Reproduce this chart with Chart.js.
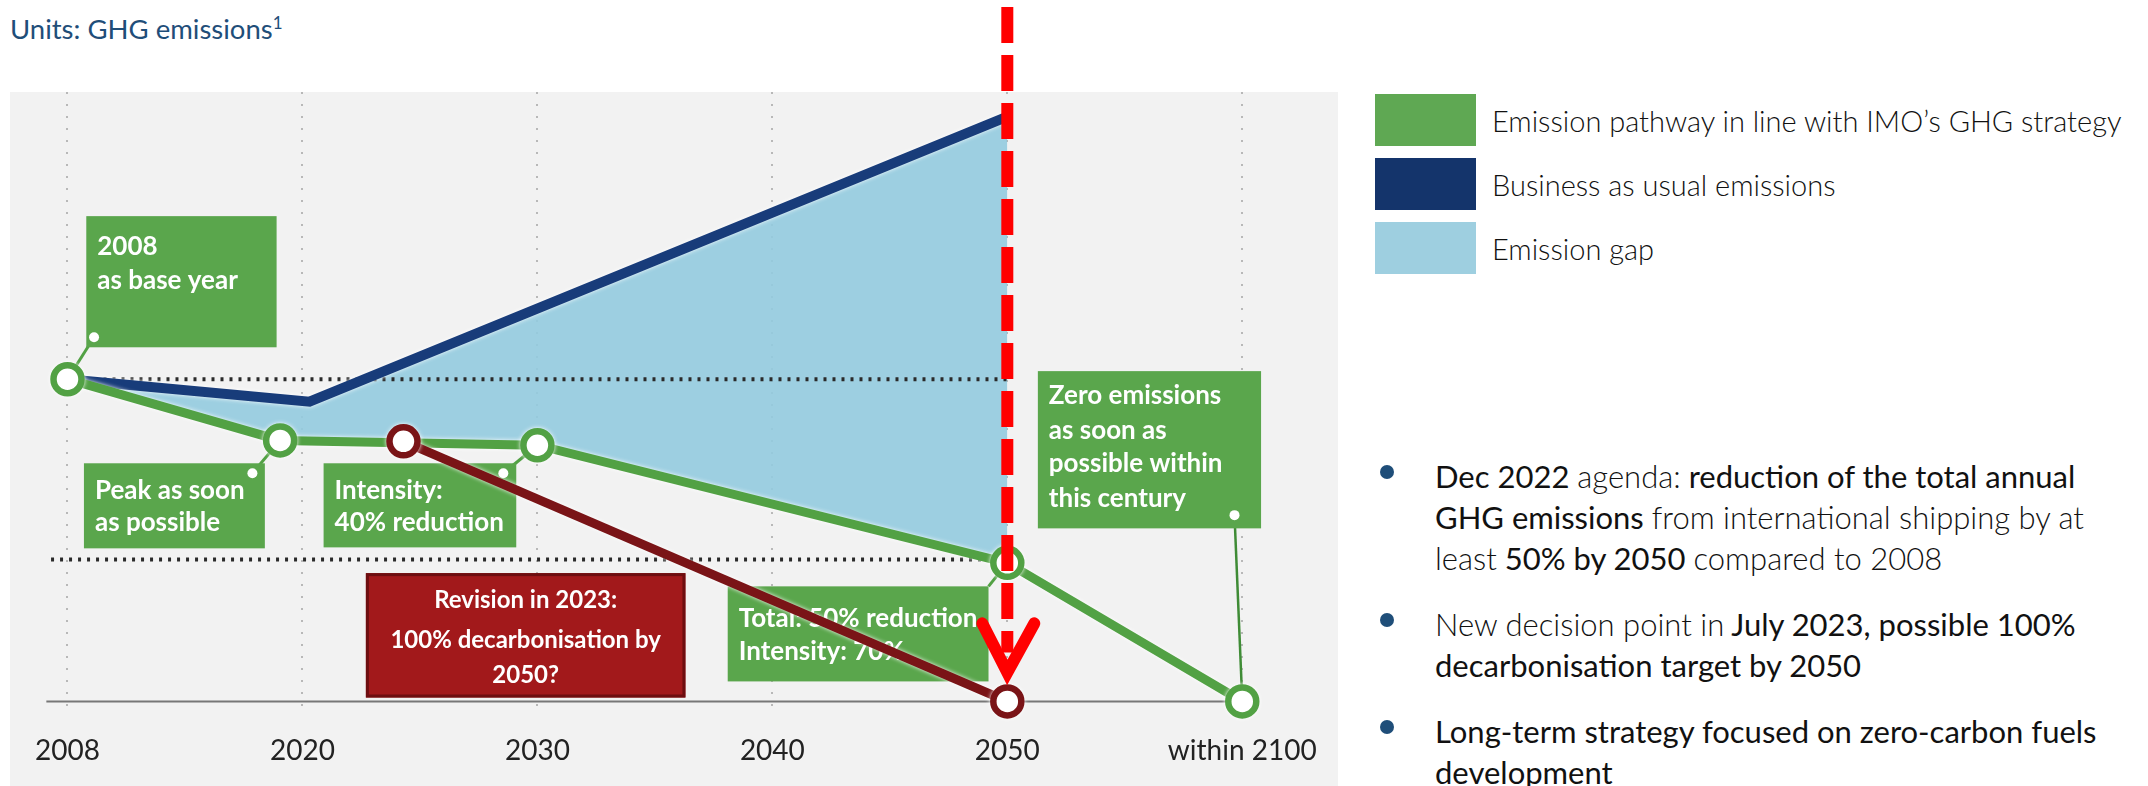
<!DOCTYPE html>
<html>
<head>
<meta charset="utf-8">
<title>IMO GHG strategy - emission pathways</title>
<script src="https://cdn.jsdelivr.net/npm/chart.js@4.4.1/dist/chart.umd.min.js"></script>
<style>
  html, body { margin: 0; padding: 0; background: #fff; }
  body { width: 2148px; height: 786px; position: relative; overflow: hidden; font-family: Lato, 'Open Sans', sans-serif; }
  .units { position: absolute; left: 10px; top: 12px; font-size: 27.5px; color: #1f4e79; white-space: nowrap; }
  .units sup { font-size: 17px; }
  .panel { position: absolute; left: 10px; top: 92px; width: 1328px; height: 694px; background: #f2f2f2; }
  #chart { position: absolute; left: 0; top: 0; }
  .legend { position: absolute; left: 1375px; top: 94px; }
  .legend .item { display: flex; align-items: center; height: 52px; margin-bottom: 12px; }
  .legend .swatch { width: 101px; height: 52px; margin-right: 16px; }
  .legend .label { font-size: 29px; font-weight: 300; color: #111; white-space: nowrap; }
  .notes { position: absolute; left: 1373px; top: 456px; margin: 0; padding: 0; list-style: none; font-size: 31px; line-height: 41px; color: #111; }
  .notes li { position: relative; padding-left: 62px; margin-bottom: 25px; white-space: nowrap; }
  .notes li::before { content: ''; position: absolute; left: 7px; top: 9px; width: 14px; height: 14px; border-radius: 50%; background: #1f4e79; }
  .lt { font-weight: 300; }
</style>
</head>
<body>
<div class="units">Units: GHG emissions<sup>1</sup></div>
<div class="panel"></div>
<canvas id="chart" width="1345" height="786"></canvas>
<div class="legend" id="legend"></div>
<ul class="notes">
  <li>Dec 2022 <span class="lt">agenda:</span> reduction of the total annual<br>GHG emissions <span class="lt">from international shipping by at<br>least</span> 50% by 2050 <span class="lt">compared to 2008</span></li>
  <li><span class="lt">New decision point in</span> July 2023, possible 100%<br>decarbonisation target by 2050</li>
  <li>Long-term strategy focused on zero-carbon fuels<br>development</li>
</ul>

<script>
const tickLabels = ['2008', '2020', '2030', '2040', '2050', 'within 2100'];

// x is measured in tick steps along the axis (0 = 2008 ... 5 = within 2100),
// y is an emissions index with 2008 = 100
const pathwayX = [0, 0.905, 2, 4, 5];
const pathwayY = [100, 81, 79.5, 43, 0];
const bauX = [0, 1.03, 4];
const bauY = [100, 93, 181.5];
const revisionX = [1.43, 4];
const revisionY = [80.7, 0];
const baseLevel = 100;
const halfLevel = 44;

const legendLabels = ['Emission pathway in line with IMO\u2019s GHG strategy', 'Business as usual emissions', 'Emission gap'];
const legendColors = ['#5fa853', '#14346b', '#9ecfe0'];

const GREEN = '#52a144';
const BOX_GREEN = '#5aa64c';
const NAVY = '#183c7a';
const GAP = 'rgba(148, 203, 223, 0.9)';
const RED_LINE = '#7a1417';

// text boxes, placed in the same units as the data
const callouts = [
  { lines: ['2008', 'as base year'], x: [0.08, 0.89], y: [150.6, 109.9], rows: [30, 64],
    dot: [0.113, 113], link: [0, 100] },
  { lines: ['Peak as soon', 'as possible'], x: [0.07, 0.84], y: [73.9, 47.5], rows: [27, 59],
    dot: [0.787, 70.8], link: [0.905, 81] },
  { lines: ['Intensity:', '40% reduction'], x: [1.09, 1.91], y: [73.9, 47.8], rows: [27, 59],
    dot: [1.855, 70.8], link: [2, 79.5] },
  { lines: ['Revision in 2023:', '100% decarbonisation by', '2050?'], x: [1.27, 2.63], y: [39.8, 1.2],
    rows: [27, 67, 102], red: true, center: true },
  { lines: ['Total: 50% reduction', 'Intensity: 70%'], x: [2.81, 3.92], y: [35.7, 6.2], rows: [32, 65],
    link: [4, 43], from: [3.92, 35.7] },
  { lines: ['Zero emissions', 'as soon as', 'possible within', 'this century'], x: [4.13, 5.08], y: [102.5, 53.7],
    rows: [24, 59, 92, 127], dot: [4.967, 57.8], link: [5, 0], thin: true }
];

document.getElementById('legend').innerHTML = legendLabels.map((l, i) =>
  '<div class="item"><div class="swatch" style="background:' + legendColors[i] + '"></div><div class="label">' + l + '</div></div>'
).join('');

const pts = (xs, ys) => xs.map((x, i) => ({ x: x, y: ys[i] }));

const calloutPlugin = {
  id: 'callouts',
  beforeDatasetsDraw(chart) {
    const { ctx, scales: { x, y } } = chart;
    ctx.save();
    callouts.forEach(c => {
      const left = x.getPixelForValue(c.x[0]);
      const right = x.getPixelForValue(c.x[1]);
      const top = y.getPixelForValue(c.y[0]);
      const bottom = y.getPixelForValue(c.y[1]);

      if (c.link) {
        const from = c.dot || c.from;
        ctx.beginPath();
        ctx.strokeStyle = c.thin ? '#3f8c36' : GREEN;
        ctx.lineWidth = c.thin ? 2.5 : 3;
        ctx.moveTo(x.getPixelForValue(from[0]), y.getPixelForValue(from[1]));
        ctx.lineTo(x.getPixelForValue(c.link[0]), y.getPixelForValue(c.link[1]));
        ctx.stroke();
      }

      ctx.fillStyle = c.red ? '#a2191b' : BOX_GREEN;
      ctx.fillRect(left, top, right - left, bottom - top);
      if (c.red) {
        ctx.strokeStyle = '#6d0e10';
        ctx.lineWidth = 3;
        ctx.strokeRect(left + 1.5, top + 1.5, right - left - 3, bottom - top - 3);
      }

      ctx.fillStyle = '#fff';
      ctx.font = c.red ? 'bold 24px Lato, sans-serif' : 'bold 26px Lato, sans-serif';
      ctx.textBaseline = 'middle';
      ctx.textAlign = c.center ? 'center' : 'left';
      const tx = c.center ? (left + right) / 2 : left + 11;
      c.lines.forEach((t, i) => ctx.fillText(t, tx, top + c.rows[i]));

      if (c.dot) {
        ctx.beginPath();
        ctx.fillStyle = '#fff';
        ctx.arc(x.getPixelForValue(c.dot[0]), y.getPixelForValue(c.dot[1]), 5, 0, Math.PI * 2);
        ctx.fill();
      }
    });
    ctx.restore();
  }
};

// white edge around the main lines
const haloPlugin = {
  id: 'halo',
  beforeDatasetDraw(chart, args) {
    const ctx = chart.ctx;
    ctx.save();
    if (args.meta._dataset.halo) {
      ctx.shadowColor = 'rgba(255,255,255,0.95)';
      ctx.shadowBlur = 4;
    }
  },
  afterDatasetDraw(chart) {
    chart.ctx.restore();
  }
};

// red dashed marker pointing down to the 2050 target
const arrowPlugin = {
  id: 'arrow',
  afterDatasetsDraw(chart) {
    const { ctx, scales: { x, y } } = chart;
    const px = x.getPixelForValue(revisionX[1]);
    const tip = y.getPixelForValue(revisionY[1]) - 29;
    ctx.save();
    ctx.strokeStyle = '#ff0000';
    ctx.lineWidth = 12;
    ctx.setLineDash([36, 12]);
    ctx.beginPath();
    ctx.moveTo(px, 7);
    ctx.lineTo(px, tip - 20);
    ctx.stroke();
    ctx.setLineDash([]);
    ctx.lineCap = 'round';
    ctx.lineJoin = 'miter';
    ctx.beginPath();
    ctx.moveTo(px - 25, tip - 49);
    ctx.lineTo(px, tip);
    ctx.lineTo(px + 27, tip - 49);
    ctx.stroke();
    ctx.restore();
  }
};

new Chart(document.getElementById('chart'), {
  type: 'line',
  data: {
    datasets: [
      { label: 'base level', data: pts([0, 4], [baseLevel, baseLevel]), borderColor: '#2a2a2a', borderWidth: 4,
        borderDash: [3, 6], pointRadius: 0, order: 4, clip: false },
      { label: 'half level', data: pts([-0.07, 4], [halfLevel, halfLevel]), borderColor: '#2a2a2a', borderWidth: 4,
        borderDash: [3, 6], pointRadius: 0, order: 4, clip: false },
      { label: 'axis', data: pts([-0.09, 5], [0, 0]), borderColor: '#777', borderWidth: 2, pointRadius: 0, order: 3, clip: false },
      { label: legendLabels[1], data: pts(bauX, bauY), borderColor: NAVY, borderWidth: 10, pointRadius: 0,
        fill: '+1', backgroundColor: GAP, order: 2, halo: true, clip: false },
      { label: legendLabels[0], data: pts(pathwayX, pathwayY), borderColor: GREEN, borderWidth: 9,
        pointRadius: 14, pointBorderWidth: 6.5, pointBackgroundColor: '#fff', pointBorderColor: GREEN,
        order: 1, halo: true, clip: false },
      { label: 'Revision in 2023', data: pts(revisionX, revisionY), borderColor: RED_LINE, borderWidth: 9,
        pointRadius: 14, pointBorderWidth: 6.5, pointBackgroundColor: '#fff', pointBorderColor: RED_LINE,
        order: 0, halo: true, clip: false }
    ]
  },
  options: {
    responsive: false,
    devicePixelRatio: 1,
    animation: false,
    events: [],
    layout: { padding: { left: 9.5, right: 16, top: 92, bottom: 0 } },
    plugins: {
      legend: { display: false },
      tooltip: { enabled: false },
      filler: { drawTime: 'beforeDatasetsDraw' }
    },
    scales: {
      x: {
        type: 'linear',
        min: -0.2,
        max: 5.35,
        afterBuildTicks: axis => { axis.ticks = tickLabels.map((_, i) => ({ value: i })); },
        ticks: {
          callback: (v, i) => tickLabels[i],
          font: { family: 'Lato', size: 28 },
          color: '#222',
          padding: 18,
          maxRotation: 0,
          autoSkip: false
        },
        grid: { color: '#b8b8b8', lineWidth: 2, drawTicks: false },
        border: { display: false, dash: [2, 10] }
      },
      y: {
        display: false,
        min: -4.66,
        max: 189.13
      }
    }
  },
  plugins: [calloutPlugin, haloPlugin, arrowPlugin]
});
</script>
</body>
</html>
